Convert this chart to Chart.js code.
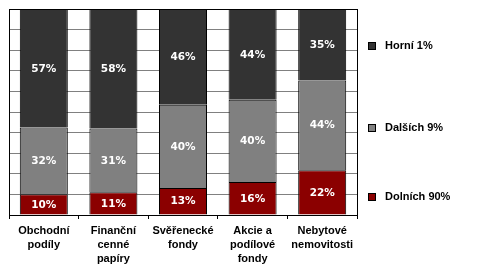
<!DOCTYPE html>
<html>
<head>
<meta charset="utf-8">
<script src="https://cdn.jsdelivr.net/npm/chart.js@4"></script>
<style>
  body { margin: 0; background: #fff; }
  #wrap { width: 490px; height: 268px; }
</style>
</head>
<body>
<div id="wrap"><canvas id="chart"></canvas></div>
<script>
// Rozložení majetku podle typu aktiv
const kategorie = [
    ['Obchodní', 'podíly'],
    ['Finanční', 'cenné', 'papíry'],
    ['Svěřenecké', 'fondy'],
    ['Akcie a', 'podílové', 'fondy'],
    ['Nebytové', 'nemovitosti']
];
const dolnich90 = [10, 11, 13, 16, 22];
const dalsich9 = [32, 31, 40, 40, 44];
const horni1 = [57, 58, 46, 44, 35];

const serie = [
    { label: 'Dolních 90%', data: dolnich90, color: '#8b0000' },
    { label: 'Dalších 9%', data: dalsich9, color: '#808080' },
    { label: 'Horní 1%', data: horni1, color: '#333333' }
];

// součty pro 100% skládaný graf
const soucty = kategorie.map((_, i) => serie.reduce((s, d) => s + d.data[i], 0));

const popiskyPlugin = {
    id: 'popisky',
    afterDatasetsDraw(chart) {
        const ctx = chart.ctx;
        ctx.save();
        ctx.font = 'bold 10.5px "DejaVu Sans"';
        ctx.fillStyle = '#fff';
        ctx.textAlign = 'center';
        ctx.textBaseline = 'middle';
        chart.data.datasets.forEach((ds, di) => {
            chart.getDatasetMeta(di).data.forEach((bar, i) => {
                ctx.fillText(ds.puvodni[i] + '%', bar.x, (bar.y + bar.base) / 2 + 0.5);
            });
        });
        ctx.restore();
    }
};

const ramecekPlugin = {
    id: 'ramecek',
    afterDraw(chart) {
        const a = chart.chartArea;
        const ctx = chart.ctx;
        ctx.save();
        ctx.strokeStyle = '#000';
        ctx.lineWidth = 1;
        ctx.strokeRect(Math.round(a.left) + 0.5, Math.round(a.top) + 0.5,
            Math.round(a.right - a.left), Math.round(a.bottom - a.top));

        // legenda vpravo
        const polohy = [197, 128, 46];
        ctx.font = 'bold 11px "Liberation Sans", Arial, sans-serif';
        ctx.textBaseline = 'middle';
        ctx.textAlign = 'left';
        chart.data.datasets.forEach((ds, di) => {
            const y = polohy[di];
            ctx.fillStyle = ds.backgroundColor;
            ctx.fillRect(368, y - 4, 8, 8);
            ctx.strokeRect(368.5, y - 3.5, 7, 7);
            ctx.fillStyle = '#000';
            ctx.fillText(ds.label, 385, y);
        });
        ctx.restore();
    }
};

new Chart(document.getElementById('chart'), {
    type: 'bar',
    data: {
        labels: kategorie,
        datasets: serie.map(s => ({
            label: s.label,
            data: s.data.map((v, i) => v / soucty[i] * 100),
            puvodni: s.data,
            backgroundColor: s.color,
            borderColor: '#000',
            borderWidth: 1,
            borderSkipped: 'bottom',
            inflateAmount: 0,
            categoryPercentage: 1,
            barPercentage: 0.69
        }))
    },
    options: {
        responsive: true,
        maintainAspectRatio: false,
        animation: false,
        layout: { padding: { left: 9, top: 9, right: 133, bottom: 0 } },
        plugins: {
            legend: { display: false },
            tooltip: { enabled: false }
        },
        scales: {
            x: {
                stacked: true,
                grid: { offset: true, drawOnChartArea: false, drawTicks: true, tickLength: 4, color: '#000' },
                border: { color: '#000' },
                ticks: {
                    color: '#000',
                    font: { family: '"Liberation Sans", Arial, sans-serif', size: 11, weight: 'bold', lineHeight: 1.27 },
                    maxRotation: 0,
                    autoSkip: false,
                    padding: 5
                },
                afterFit: s => { s.height = 53; }
            },
            y: {
                stacked: true,
                min: 0,
                max: 100,
                ticks: { display: false, stepSize: 10 },
                grid: { color: '#808080', drawTicks: false },
                border: { color: '#000' },
                afterFit: s => { s.width = 0; }
            }
        }
    },
    plugins: [popiskyPlugin, ramecekPlugin]
});
</script>
</body>
</html>
